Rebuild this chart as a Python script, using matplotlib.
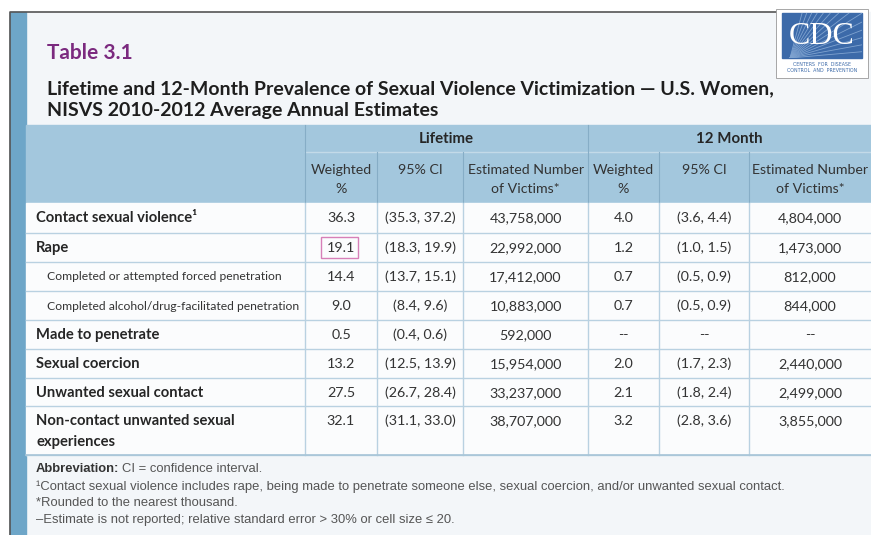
import matplotlib.pyplot as plt
import matplotlib.patches as mpatches
import numpy as np

# table content
row_labels = ['Contact sexual violence\u00b9', 'Rape',
              'Completed or attempted forced penetration',
              'Completed alcohol/drug-facilitated penetration',
              'Made to penetrate', 'Sexual coercion', 'Unwanted sexual contact',
              'Non-contact unwanted sexual\nexperiences']
row_is_sub = [False, False, True, True, False, False, False, False]

life_pct = ['36.3', '19.1', '14.4', '9.0', '0.5', '13.2', '27.5', '32.1']
life_ci = ['(35.3, 37.2)', '(18.3, 19.9)', '(13.7, 15.1)', '(8.4, 9.6)',
           '(0.4, 0.6)', '(12.5, 13.9)', '(26.7, 28.4)', '(31.1, 33.0)']
life_n = ['43,758,000', '22,992,000', '17,412,000', '10,883,000',
          '592,000', '15,954,000', '33,237,000', '38,707,000']
m12_pct = ['4.0', '1.2', '0.7', '0.7', '--', '2.0', '2.1', '3.2']
m12_ci = ['(3.6, 4.4)', '(1.0, 1.5)', '(0.5, 0.9)', '(0.5, 0.9)',
          '--', '(1.7, 2.3)', '(1.8, 2.4)', '(2.8, 3.6)']
m12_n = ['4,804,000', '1,473,000', '812,000', '844,000',
         '--', '2,440,000', '2,499,000', '3,855,000']

group_labels = ['Lifetime', '12 Month']
sub_headers = ['Weighted\n%', '95% CI', 'Estimated Number\nof Victims*']

title = 'Table 3.1'
subtitle = ['Lifetime and 12-Month Prevalence of Sexual Violence Victimization \u2014 U.S. Women,',
            'NISVS 2010-2012 Average Annual Estimates']
notes = ['\u00b9Contact sexual violence includes rape, being made to penetrate someone else, '
         'sexual coercion, and/or unwanted sexual contact.',
         '*Rounded to the nearest thousand.',
         '\u2013Estimate is not reported; relative standard error > 30% or cell size \u2264 20.']

# layout (pixels)
W, H = 871, 535
col_edges = [26, 305, 377, 463, 588, 659, 749, 871]
row_edges = [203, 233, 262, 291, 320, 349, 378, 406, 455]
head_top, head_mid = 125, 152

CELL = ['Lato', 'DejaVu Sans']
SANS = ['Lato', 'DejaVu Sans']
NOTE = ['Liberation Sans', 'DejaVu Sans']
txt = '#262626'
head_bg = '#a3c7dd'
grid = '#b9d1e1'

fig = plt.figure(figsize=(W / 100, H / 100), dpi=100)
ax = fig.add_axes([0, 0, 1, 1])
ax.set_xlim(0, W)
ax.set_ylim(H, 0)
ax.axis('off')

# panel, blue side bar and frame
ax.add_patch(mpatches.Rectangle((26, 12), W - 26, H - 12, color='#f3f6f9', zorder=0))
ax.add_patch(mpatches.Rectangle((10, 12), 16, H - 12, color='#6ea6c8', zorder=1))
ax.plot([10, 10, 776], [H, 12, 12], color='#555555', lw=1.2, zorder=2)

# titles
ax.text(47, 53, title, color='#7b2a7f', fontsize=15, fontweight='bold',
        family=SANS, va='center')
for k, line in enumerate(subtitle):
    ax.text(47, 89 + 21.5 * k, line, color='#1e1e1e', fontsize=14, fontweight='bold',
            family=SANS, va='center')

# CDC logo
ax.add_patch(mpatches.Rectangle((776, 9), 92, 69, facecolor='white',
                                edgecolor='#999999', lw=0.6, zorder=3))
logo = mpatches.Rectangle((782, 13), 80, 45, color='#3c6aa9', zorder=4)
ax.add_patch(logo)
for ang in np.linspace(-75, -5, 14):
    t = np.deg2rad(ang)
    ln, = ax.plot([790, 790 + 120 * np.cos(t)], [58, 58 + 120 * np.sin(t)],
                  color='#7fa3d0', lw=0.6, zorder=5)
    ln.set_clip_path(logo)
ax.text(822, 37, 'CDC', color='white', fontsize=23,
        family=['Liberation Serif', 'DejaVu Serif'],
        ha='center', va='center', zorder=6)
ax.text(822, 64, 'CENTERS  FOR  DISEASE', color='#3c6aa9', fontsize=3.4,
        ha='center', va='center', zorder=6)
ax.text(822, 71, 'CONTROL  AND  PREVENTION', color='#3c6aa9', fontsize=3.4,
        ha='center', va='center', zorder=6)

# header
ax.add_patch(mpatches.Rectangle((26, head_top), W - 26, row_edges[0] - head_top,
                                color=head_bg, zorder=1))
ax.plot([col_edges[1], W], [head_mid, head_mid], color='#c3dae8', lw=1, zorder=2)
for x in col_edges[1:-1]:
    y0 = head_top if x in (col_edges[1], col_edges[4]) else head_mid
    ax.plot([x, x], [y0, row_edges[0]], color='#86adc6', lw=0.8, zorder=2)
for g, lab in enumerate(group_labels):
    xc = (col_edges[1 + 3 * g] + col_edges[4 + 3 * g]) / 2
    ax.text(xc, 139, lab, fontsize=10.8, fontweight='bold', family=CELL,
            color=txt, ha='center', va='center')
    for k, sh in enumerate(sub_headers):
        xc = (col_edges[1 + 3 * g + k] + col_edges[2 + 3 * g + k]) / 2
        for m, part in enumerate(sh.split('\n')):
            ax.text(xc, 170 + 19 * m, part, fontsize=10.2, family=CELL,
                    color='#333333', ha='center', va='center')

# body
ax.add_patch(mpatches.Rectangle((26, row_edges[0]), W - 26, row_edges[-1] - row_edges[0],
                                color='#fbfcfd', zorder=1))
for y in row_edges[1:]:
    ax.plot([26, W], [y, y], color=grid, lw=1, zorder=2)
for x in col_edges[1:-1]:
    ax.plot([x, x], [row_edges[0], row_edges[-1]], color=grid, lw=1, zorder=2)

columns = [life_pct, life_ci, life_n, m12_pct, m12_ci, m12_n]
for i, lab in enumerate(row_labels):
    yc = row_edges[i] + 15
    for m, part in enumerate(lab.split('\n')):
        if row_is_sub[i]:
            ax.text(47, yc, part, fontsize=8.7, family=CELL, color='#333333',
                    va='center', zorder=3)
        else:
            ax.text(36, yc + 21 * m, part, fontsize=10.6, fontweight='bold',
                    family=CELL, color=txt, va='center', zorder=3)
    for j, col in enumerate(columns):
        xc = (col_edges[j + 1] + col_edges[j + 2]) / 2
        ax.text(xc, yc, col[i], fontsize=10.3, family=CELL, color='#333333',
                ha='center', va='center', zorder=3)

# highlight box around the rape lifetime percentage
ax.add_patch(mpatches.Rectangle((321, 237), 37, 21, fill=False,
                                edgecolor='#d77fb8', lw=1, zorder=4))

# footnotes
ax.plot([26, W], [row_edges[-1], row_edges[-1]], color='#a8c5d8', lw=1.2, zorder=2)
ab = ax.text(36, 469, 'Abbreviation:', fontsize=9.4, fontweight='bold',
             family=NOTE, color='#333333', va='center')
fig.canvas.draw()
bb = ab.get_window_extent()
ax.text(36 + bb.width + 3, 469, 'CI = confidence interval.', fontsize=9.4,
        family=NOTE, color='#555555', va='center')
for k, note in enumerate(notes):
    ax.text(36, 487 + 16.5 * k, note, fontsize=9.4, family=NOTE,
            color='#555555', va='center')

fig.savefig('out.png', dpi=100)
